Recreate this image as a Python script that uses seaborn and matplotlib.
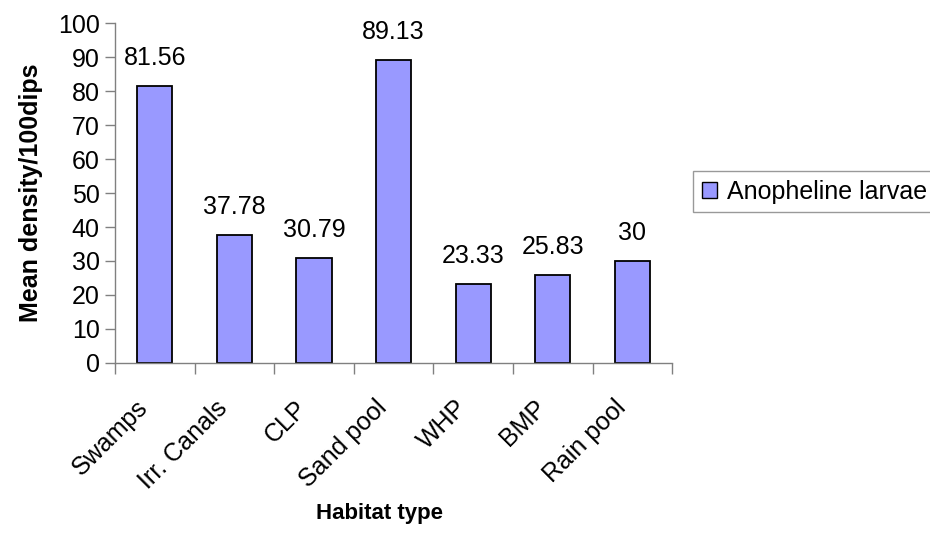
import matplotlib
matplotlib.use("Agg")
import matplotlib.pyplot as plt
import matplotlib.transforms as mtransforms
import seaborn as sns
import pandas as pd
import numpy as np
from matplotlib.patches import Patch

habitats = ["Swamps", "Irr. Canals", "CLP", "Sand pool", "WHP", "BMP", "Rain pool"]
density = [81.56, 37.78, 30.79, 89.13, 23.33, 25.83, 30]
value_labels = ["81.56", "37.78", "30.79", "89.13", "23.33", "25.83", "30"]
y_ticks = [0, 10, 20, 30, 40, 50, 60, 70, 80, 90, 100]
series_name = "Anopheline larvae"

df = pd.DataFrame({"Habitat type": habitats, "density": density})

sns.set_theme(style="white")
plt.rcParams["font.family"] = ["Liberation Sans", "DejaVu Sans"]
plt.rcParams["text.color"] = "black"
plt.rcParams["axes.labelcolor"] = "black"

bar_color = "#9999FF"
axis_grey = "#808080"
fs = 18

fig = plt.figure(figsize=(9.3, 5.35), dpi=100)
ax = fig.add_axes([0.1237, 0.3215, 0.599, 0.6355])

sns.barplot(data=df, x="Habitat type", y="density", color=bar_color,
            edgecolor="black", linewidth=1.3, width=0.44, saturation=1, ax=ax)

ax.set_xlim(-0.5, len(habitats) - 0.5)
ax.set_ylim(0, 100)
ax.set_yticks(y_ticks)
ax.set_yticklabels([str(t) for t in y_ticks], fontsize=fs)

# category labels without tick marks; boundary ticks as minor ticks
ax.set_xticks(range(len(habitats)))
ax.set_xticklabels(habitats, rotation=45, ha="right", rotation_mode="anchor", fontsize=fs)
ax.set_xticks(np.arange(-0.5, len(habitats), 1), minor=True)
ax.tick_params(axis="x", which="major", length=0, pad=20, labelcolor="black")
ax.tick_params(axis="x", which="minor", length=8, width=1, color=axis_grey, direction="out", bottom=True)
ax.tick_params(axis="y", length=7, width=1, color=axis_grey, direction="out", left=True, pad=4,
               labelcolor="black")

# nudge the slanted category labels so they end just left of each category centre
shift = mtransforms.ScaledTranslation(-19 / 100, -5 / 100, fig.dpi_scale_trans)
for lab in ax.get_xticklabels():
    lab.set_transform(lab.get_transform() + shift)

for side in ["top", "right"]:
    ax.spines[side].set_visible(False)
for side in ["left", "bottom"]:
    ax.spines[side].set_color(axis_grey)
    ax.spines[side].set_linewidth(1)

for i, (v, lab) in enumerate(zip(density, value_labels)):
    ax.annotate(lab, (i, v), xytext=(0, 11.5), textcoords="offset points",
                ha="center", va="bottom", fontsize=fs)

ax.set_xlabel("Habitat type", fontsize=16, fontweight="bold")
ax.xaxis.set_label_coords(0.474, -0.444)
ax.xaxis.label.set_va("center")
ax.set_ylabel("Mean density/100dips", fontsize=fs, fontweight="bold")
ax.yaxis.set_label_coords(-0.15, 0.5)
ax.yaxis.label.set_va("center")

handle = Patch(facecolor=bar_color, edgecolor="black", linewidth=1.0)
leg = fig.legend([handle], [series_name], loc="center left",
                 bbox_to_anchor=(0.745, 0.642), fontsize=fs, frameon=True,
                 fancybox=False, edgecolor=axis_grey, handlelength=0.6,
                 handleheight=0.6, handletextpad=0.4, borderpad=0.35,
                 borderaxespad=0)
leg.get_frame().set_linewidth(1)

fig.savefig("out.png", dpi=100)
